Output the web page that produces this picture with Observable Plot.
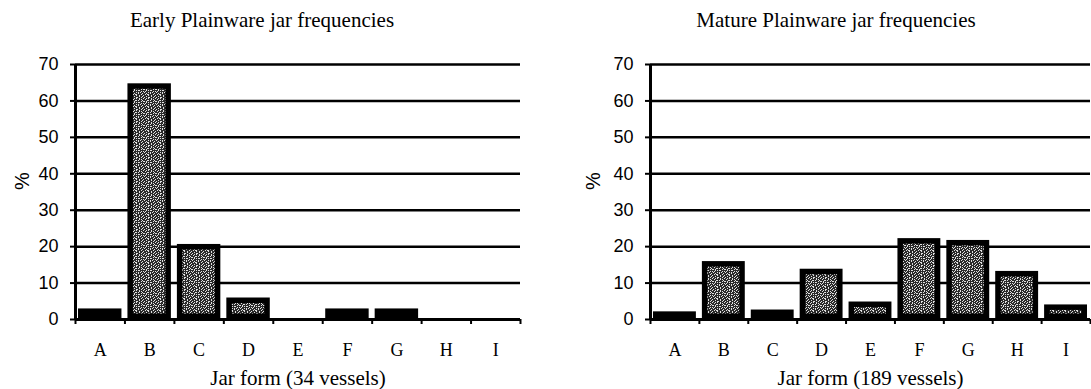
<!DOCTYPE html>
<html><head><meta charset="utf-8">
<script src="https://cdn.jsdelivr.net/npm/d3@7"></script>
<script src="https://cdn.jsdelivr.net/npm/@observablehq/plot@0.6"></script>
<style>
body{margin:0;background:#fff;}
#wrap{position:relative;width:1091px;height:389px;overflow:hidden;background:#fff;}
.panel{position:absolute;top:0;height:389px;}
.title{position:absolute;top:10px;font:21px/21px "Liberation Serif",serif;white-space:nowrap;transform:translateX(-50%);color:#000;}
</style></head><body>
<div id="wrap"></div>
<script>
const categories = ["A","B","C","D","E","F","G","H","I"];
const earlyValues = [2.9, 64.7, 20.6, 5.9, 0, 2.9, 2.9, 0, 0];
const matureValues = [2.1, 15.9, 2.6, 13.8, 4.8, 22.2, 21.7, 13.2, 4.0];
const yTicks = [0, 10, 20, 30, 40, 50, 60, 70];
const titles = ["Early Plainware jar frequencies", "Mature Plainware jar frequencies"];
const xLabels = ["Jar form (34 vessels)", "Jar form (189 vessels)"];
const yLabel = "%";

const speckRows = [
"..#....#..#.",
"#...##...#..",
"..#.#..#...#",
".#.....#.#..",
"...##.#...#.",
"#.#......#.#",
"..#.#.##....",
".#.......#.#",
"#...#.#.#...",
"..#...#...#.",
".#.##....#..",
"....#..#...#"];

function addPattern(svg, id) {
  const defs = d3.select(svg).insert("defs", ":first-child");
  const p = defs.append("pattern").attr("id", id).attr("patternUnits", "userSpaceOnUse")
    .attr("width", 12).attr("height", 12);
  p.append("rect").attr("width", 12).attr("height", 12).attr("fill", "#2a2a2a");
  speckRows.forEach((row, r) => {
    [...row].forEach((c, k) => {
      if (c === "#") p.append("rect").attr("x", k).attr("y", r).attr("width", 1).attr("height", 1).attr("fill", "#e0e0e0");
    });
  });
}

function panel(values, idx, cfg) {
  const data = categories.map((c, i) => ({cat: c, i, i1: i + 1, mid: i + 0.5, value: values[i]}));
  const pid = "speck" + idx;
  const svg = Plot.plot({
    width: cfg.width,
    height: 389,
    marginTop: 64,
    marginBottom: 70,
    marginLeft: cfg.marginLeft,
    marginRight: cfg.marginRight,
    style: {background: "transparent", color: "#000", overflow: "visible", fontSize: "18px", fontFamily: "Liberation Sans"},
    x: {domain: [0, categories.length], axis: null},
    y: {domain: [0, 70], axis: null},
    marks: [
      Plot.ruleY(yTicks.filter(t => t > 0), {stroke: "#000", strokeWidth: 2.5}),
      Plot.rectY(data, {
        filter: d => d.value > 0,
        x1: "i", x2: "i1", y: "value",
        fill: `url(#${pid})`, stroke: "#000", strokeWidth: 5.5,
        insetLeft: 5.75, insetRight: 5.75, insetTop: 2.75, insetBottom: 2.75
      }),
      Plot.ruleY([0], {stroke: "#000", strokeWidth: 3}),
      Plot.ruleX([0], {stroke: "#000", strokeWidth: 3}),
      Plot.axisY({ticks: yTicks, tickSize: 5, tickPadding: 12, tickFormat: d => String(d),
        label: null, strokeWidth: 2}),
      Plot.axisX({ticks: d3.range(categories.length + 1), tickSize: 5, tickFormat: () => "",
        label: null, strokeWidth: 2}),
      Plot.text(data, {x: "mid", text: "cat", frameAnchor: "bottom", dy: 31, lineAnchor: "middle",
        fontSize: 18, fontFamily: "Liberation Serif", fill: "#000"}),
      Plot.text([xLabels[idx]], {frameAnchor: "bottom", dy: 59, lineAnchor: "middle",
        fontSize: 21, fontFamily: "Liberation Serif", fill: "#000"}),
      Plot.text([yLabel], {frameAnchor: "left", dx: cfg.yLabelDx, dy: -2, rotate: -90, lineAnchor: "middle",
        fontSize: 20, fontFamily: "Liberation Sans", fill: "#000"})
    ]
  });
  addPattern(svg, pid);
  const div = document.createElement("div");
  div.className = "panel";
  div.style.left = cfg.left + "px";
  div.style.width = cfg.width + "px";
  div.appendChild(svg);
  const t = document.createElement("div");
  t.className = "title";
  t.style.left = cfg.titleX + "px";
  t.textContent = titles[idx];
  div.appendChild(t);
  document.getElementById("wrap").appendChild(div);
}

panel(earlyValues, 0, {left: 0, width: 545, marginLeft: 75, marginRight: 25, yLabelDx: -53, titleX: 262});
panel(matureValues, 1, {left: 545, width: 546, marginLeft: 105, marginRight: 1, yLabelDx: -57, titleX: 291});
</script>
</body></html>
